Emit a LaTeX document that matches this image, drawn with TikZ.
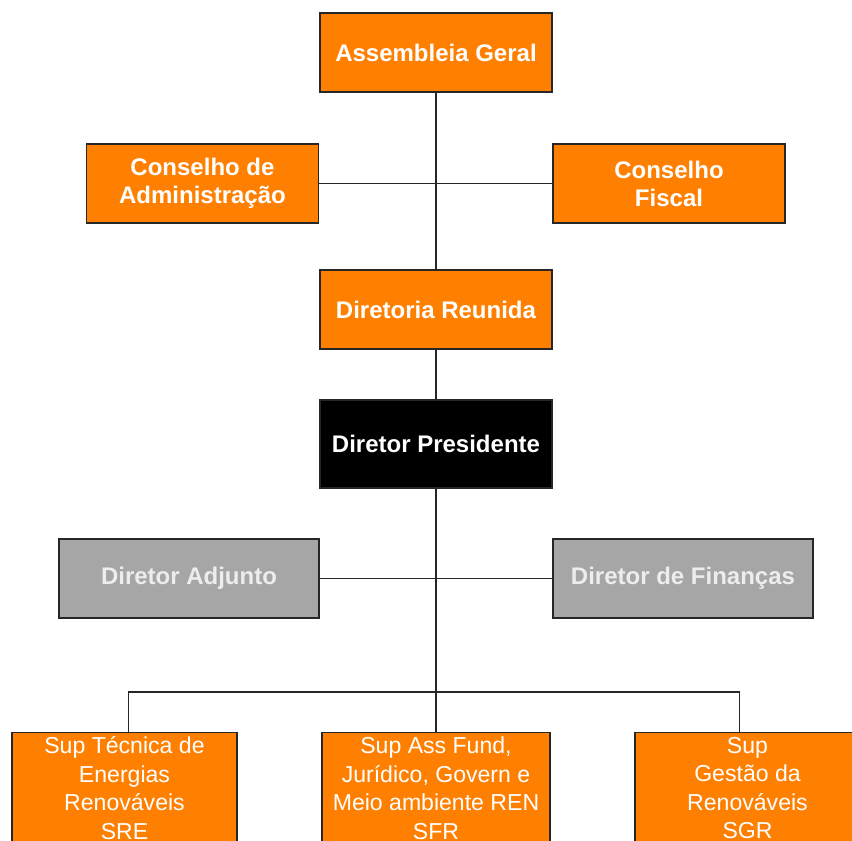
\documentclass[tikz,border=0pt]{standalone}
\usepackage{fontspec}
\setmainfont{Liberation Sans}
\usepackage{tikz}

\definecolor{laranja}{HTML}{FF8000}
\definecolor{cinza}{HTML}{A6A6A6}

\begin{document}
\begin{tikzpicture}
					[x=0.75pt,y=-0.75pt,
					caixa/.style={rectangle,minimum width=174pt,minimum height=59.25pt,inner sep=0pt,draw=black!85,line width=1.1pt,fill=laranja,text=white,font=\fontsize{18}{21}\selectfont\bfseries,align=center},
					chefe/.style={caixa,fill=black,minimum height=66pt},
					adjunto/.style={caixa,fill=cinza,text=black!7,minimum width=195pt},
					sup/.style={caixa,anchor=north,minimum width=170pt,minimum height=83pt,inner sep=0pt,font=\fontsize{17.3}{21.4}\selectfont},
					elo/.style={line width=0.8pt,black!85}]
					\useasboundingbox (0,0) rectangle (852,841);
					\clip (0,0) rectangle (852,841);
					\node[caixa] (ag) at (436,52.5) {Assembleia Geral};
					\node[caixa] (ca) at (202.5,183.5) {Conselho de\\Administração};
					\node[caixa] (cf) at (669,183.5) {Conselho\\Fiscal};
					\node[caixa] (dr) at (436,309.5) {Diretoria Reunida};
					\node[chefe] (dp) at (436,444) {Diretor Presidente};
					\node[adjunto] (da) at (189,578.5) {Diretor Adjunto};
					\node[adjunto] (df) at (683,578.5) {Diretor de Finanças};
					\node[sup,minimum width=168.75pt] (sre) at (124.5,732) {Sup Técnica de\\Energias\\Renováveis\\SRE};
					\node[sup,minimum width=171pt] (sfr) at (436,732) {Sup Ass Fund,\\Jurídico, Govern e\\Meio ambiente REN\\SFR};
					\node[sup,minimum width=168.75pt] (sgr) at (747.5,732) {Sup\\Gestão da\\Renováveis\\SGR};
					\path (ag.south) edge[elo] (dr.north);
					\path (ca.east) edge[elo] (cf.west);
					\path (dr.south) edge[elo] (dp.north);
					\path (dp.south) edge[elo] (sfr.north);
					\path (da.east) edge[elo] (df.west);
					\draw[elo] ([xshift=3pt]sre.north) -- ++(0,-40) -| ([xshift=-6pt]sgr.north);
				\end{tikzpicture}
\end{document}
